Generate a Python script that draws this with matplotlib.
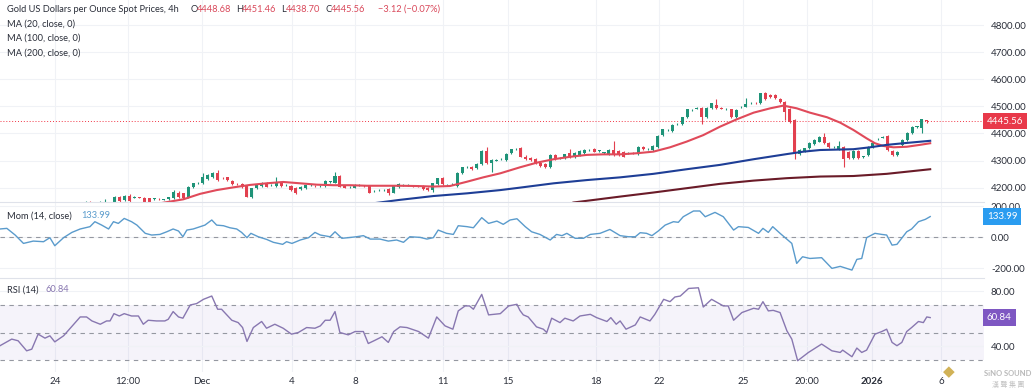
import matplotlib
matplotlib.use("Agg")
from matplotlib import pyplot as plt

# ---- price candles (4h bars, x = bar index) ----
bar_idx = list(range(17, 190))
opens = [4128, 4135, 4130, 4125, 4138, 4140,
         4148, 4167, 4155, 4171, 4163, 4165, 4163, 4160, 4159, 4158, 4156, 4157, 4161, 4182,
         4179, 4167, 4201, 4216, 4219, 4232, 4241, 4255, 4235, 4238, 4226, 4213, 4214, 4206,
         4167, 4198, 4206, 4219, 4209, 4206, 4219, 4209, 4206, 4198, 4194, 4198, 4209, 4207,
         4206, 4206, 4222, 4219, 4243, 4206, 4203, 4200, 4210, 4207, 4206, 4187, 4190, 4191,
         4194, 4182, 4201, 4210, 4210, 4207, 4206, 4206, 4200, 4192, 4214, 4235, 4210, 4213,
         4206, 4253, 4275, 4278, 4272, 4287, 4337, 4290, 4300, 4304, 4302, 4327, 4342,
         4345, 4315, 4310, 4305, 4290, 4287, 4278, 4321, 4307, 4308, 4327, 4312, 4321, 4327,
         4339, 4342, 4336, 4329, 4323, 4339, 4335, 4333, 4326, 4327, 4324, 4351, 4341, 4339,
         4351, 4395, 4413, 4410, 4434, 4435, 4460, 4487, 4492, 4493, 4460, 4493, 4505, 4493,
         4489, 4489, 4460, 4496, 4499, 4511, 4514, 4511, 4548, 4542, 4542, 4526, 4517, 4489,
         4450, 4324, 4333, 4345, 4361, 4370, 4388, 4364, 4349, 4342, 4349, 4333, 4308, 4337,
         4314, 4321, 4349, 4378, 4385, 4391, 4337, 4321, 4358, 4376, 4401, 4425, 4419, 4448.68]
highs = [4152, 4150, 4142, 4150, 4158, 4146,
         4170, 4170, 4174, 4176, 4168, 4167, 4165, 4162, 4163, 4160, 4159, 4166, 4190, 4186,
         4182, 4206, 4219, 4222, 4253, 4250, 4259, 4265, 4238, 4241, 4229, 4216, 4217, 4210,
         4200, 4212, 4221, 4222, 4213, 4238, 4222, 4213, 4209, 4201, 4206, 4210, 4213, 4210,
         4209, 4228, 4226, 4259, 4246, 4209, 4206, 4212, 4213, 4210, 4209, 4191, 4194, 4195,
         4197, 4208, 4216, 4214, 4213, 4210, 4209, 4209, 4203, 4218, 4237, 4238, 4213, 4217,
         4256, 4278, 4279, 4281, 4290, 4340, 4349, 4305, 4304, 4308, 4327, 4344, 4346,
         4350, 4320, 4314, 4309, 4294, 4290, 4323, 4325, 4312, 4326, 4341, 4330, 4340, 4342,
         4343, 4345, 4340, 4333, 4342, 4373, 4338, 4336, 4330, 4331, 4352, 4355, 4345, 4357,
         4394, 4418, 4417, 4434, 4438, 4462, 4492, 4491, 4497, 4497, 4498, 4514, 4526, 4497,
         4493, 4492, 4490, 4500, 4530, 4515, 4517, 4551, 4552, 4546, 4545, 4530, 4521, 4493,
         4455, 4342, 4348, 4367, 4379, 4389, 4403, 4367, 4352, 4373, 4352, 4336, 4340, 4340,
         4318, 4352, 4369, 4382, 4389, 4396, 4340, 4336, 4379, 4404, 4428, 4429, 4455, 4451.46]
lows = [4120, 4125, 4118, 4120, 4130, 4132,
        4145, 4145, 4150, 4142, 4160, 4160, 4144, 4143, 4156, 4154, 4153, 4155, 4158, 4160,
        4157, 4163, 4198, 4213, 4215, 4229, 4237, 4225, 4231, 4225, 4210, 4209, 4198, 4164,
        4163, 4195, 4203, 4201, 4206, 4203, 4203, 4206, 4188, 4178, 4191, 4195, 4206, 4203,
        4203, 4203, 4219, 4216, 4201, 4197, 4200, 4197, 4207, 4203, 4179, 4184, 4188, 4188,
        4172, 4179, 4198, 4207, 4207, 4203, 4203, 4191, 4188, 4185, 4211, 4211, 4207, 4210,
        4203, 4250, 4272, 4265, 4269, 4284, 4287, 4259, 4297, 4301, 4299, 4324, 4338,
        4312, 4302, 4299, 4287, 4277, 4272, 4274, 4302, 4304, 4305, 4309, 4309, 4318, 4324,
        4336, 4330, 4333, 4326, 4320, 4318, 4318, 4312, 4323, 4324, 4321, 4338, 4338, 4336,
        4348, 4392, 4410, 4407, 4431, 4432, 4457, 4484, 4489, 4435, 4457, 4490, 4490, 4490,
        4486, 4459, 4457, 4493, 4496, 4508, 4510, 4508, 4523, 4530, 4527, 4514, 4450, 4440,
        4305, 4320, 4330, 4342, 4358, 4367, 4360, 4346, 4346, 4339, 4278, 4305, 4305, 4305,
        4311, 4318, 4346, 4375, 4382, 4336, 4318, 4318, 4355, 4373, 4398, 4422, 4400, 4438.70]
closes = [4135, 4130, 4125, 4138, 4146, 4146,
          4167, 4149, 4171, 4151, 4165, 4163, 4146, 4146, 4161, 4157, 4157, 4164, 4185, 4164,
          4161, 4204, 4216, 4219, 4241, 4247, 4255, 4228, 4234, 4228, 4214, 4212, 4201, 4167,
          4198, 4210, 4219, 4204, 4211, 4219, 4206, 4210, 4192, 4182, 4204, 4208, 4210, 4206,
          4207, 4226, 4223, 4243, 4204, 4200, 4204, 4210, 4211, 4206, 4182, 4188, 4192, 4192,
          4179, 4206, 4214, 4211, 4210, 4206, 4205, 4194, 4192, 4216, 4235, 4214, 4211, 4214,
          4253, 4275, 4276, 4268, 4287, 4337, 4290, 4302, 4301, 4305, 4324, 4342, 4343,
          4315, 4305, 4302, 4290, 4280, 4275, 4321, 4305, 4308, 4323, 4312, 4327, 4337, 4339,
          4340, 4333, 4337, 4330, 4339, 4321, 4321, 4315, 4327, 4326, 4349, 4342, 4342, 4354,
          4391, 4415, 4414, 4431, 4435, 4460, 4489, 4488, 4493, 4462, 4495, 4511, 4493, 4492,
          4490, 4462, 4487, 4497, 4509, 4512, 4513, 4548, 4526, 4533, 4530, 4517, 4480, 4444,
          4327, 4339, 4345, 4364, 4376, 4386, 4364, 4349, 4350, 4354, 4305, 4308, 4337, 4308,
          4315, 4349, 4366, 4379, 4386, 4339, 4321, 4333, 4376, 4401, 4425, 4426, 4452, 4445.56]

# ---- moving averages ----
ma20_x = [31.5, 37.0, 40.4, 43.8, 47.2, 50.6, 54.0, 57.4, 60.9, 64.3, 67.7, 71.1, 74.5, 77.9,
          81.3, 84.7, 88.1, 91.5, 95.0, 98.3, 101.8, 105.8, 109.2, 112.7, 116.1, 119.5, 122.9,
          126.3, 129.7, 133.1, 136.5, 139.9, 143.3, 146.7, 150.1, 153.6, 157.0, 159.7, 162.4,
          165.1, 168.6, 171.3, 174.0, 176.7, 178.4, 180.1, 182.2, 184.9, 187.6, 189.7]
ma20_y = [4140, 4157, 4177, 4191, 4201, 4210, 4216, 4221, 4216, 4211, 4209, 4209, 4207, 4207,
          4207, 4206, 4204, 4206, 4222, 4238, 4253, 4275, 4292, 4305, 4314, 4321, 4323,
          4323, 4327, 4333, 4349, 4370, 4394, 4425, 4452, 4477, 4493, 4503, 4493,
          4477, 4460, 4440, 4413, 4382, 4364, 4354, 4349, 4351, 4358, 4364]
ma100_x = [74.5, 81.3, 88.1, 95.0, 101.8, 105.8, 112.7, 119.5, 126.3, 133.1, 139.9, 146.7,
           153.6, 160.4, 163.8, 167.2, 174.0, 177.4, 180.8, 184.2, 189.7]
ma100_y = [4139, 4155, 4169, 4179, 4191, 4200, 4216, 4228, 4238, 4251, 4268, 4284,
           4305, 4324, 4333, 4339, 4342, 4349, 4358, 4364, 4373]
ma200_x = [115.4, 116.7, 126.3, 133.1, 139.9, 146.7, 153.6, 160.4, 167.2, 174.0, 180.8, 189.7]
ma200_y = [4135, 4145, 4167, 4182, 4198, 4214, 4226, 4235, 4241, 4243, 4251, 4268]

# ---- momentum (14, close) ----
mom_x = [-0.5, 0.9, 2.6, 4.3, 6.3, 8.4, 9.7, 10.7, 12.5, 14.2, 15.9, 17.9, 18.9, 20.3, 21.7,
         22.7, 23.7, 24.9, 26.4, 27.5, 29.2, 30.5, 32.2, 33.6, 34.9, 36.0, 36.9, 37.7, 39.0,
         40.4, 41.4, 42.8, 43.8, 45.2, 46.5, 47.9, 48.9, 50.0, 50.8, 52.3, 54.0, 55.4, 57.3,
         58.1, 59.2, 60.9, 62.6, 63.9, 65.0, 67.0, 68.0, 69.4, 70.7, 72.4, 73.8, 75.2, 77.2,
         78.9, 80.6, 82.0, 83.3, 85.4, 86.8, 88.1, 89.1, 90.8, 92.2, 93.2, 95.0, 96.3, 98.0,
         99.4, 101.1, 102.4, 103.8, 105.2, 106.9, 108.2, 109.9, 112.0, 113.3, 114.4, 115.4,
         117.1, 118.8, 120.2, 122.2, 124.2, 126.3, 128.0, 129.4, 130.4, 131.7, 132.8, 134.1,
         135.5, 137.2, 138.2, 139.2, 141.3, 142.6, 143.7, 145.7, 147.4, 149.5, 150.5, 152.5,
         154.6, 155.5, 156.6, 157.5, 159.0, 161.4, 162.4, 163.6, 165.1, 167.5, 169.6, 171.3,
         173.7, 174.7, 175.7, 176.7, 178.4, 179.8, 180.8, 181.9, 182.9, 184.9, 185.9, 187.3,
         188.7, 189.7]
mom_y = [54, 58, 15, -39, -24, -28, -2, -54, -2, 32, 54, 69, 101, 79, 54,
         101, 90, 122, 101, 79, 26, 15, 19, 36, 54, 41, 4, 47, 54,
         69, 79, 112, 79, 75, 62, 54, 32, -2, 26, 4, -13, -32, -45,
         -28, -39, -17, -2, 32, 15, 4, 36, -6, -2, 4, 11, -11, -11,
         -24, -17, -32, 4, 0, -11, -2, 47, 26, 19, 75, 69, 62, 127,
         90, 105, 84, 112, 120, 69, 36, 19, -17, 19, 11, 26,
         -6, -6, 19, 26, 51, 11, 4, 4, 30, 26, 11, 41,
         79, 101, 97, 133, 170, 170, 133, 161, 133, 47, 69, 64,
         26, 58, 32, 69, 26, -39, -168, -125, -136, -131, -200, -187,
         -211, -142, -136, -2, 26, 19, 15, -50, -45, 36, 54, 101,
         116, 133.99]

# ---- RSI (14) ----
rsi_x = [-0.5, 1.9, 3.2, 4.95, 6.0, 7.3, 8.7, 9.7, 10.7, 12.5, 15.9, 17.2, 18.3, 20.0, 21.3,
         22.0, 22.8, 23.9, 24.9, 26.4, 27.8, 28.8, 29.8, 31.5, 33.2, 33.9, 34.9, 36.0, 36.9,
         38.4, 39.7, 41.1, 42.8, 44.0, 44.8, 46.9, 48.2, 49.1, 50.0, 51.3, 53.0, 54.0, 55.7,
         57.4, 59.1, 60.5, 62.2, 63.9, 65.0, 66.0, 67.0, 68.0, 69.0, 70.7, 72.1, 73.8, 74.8,
         76.2, 77.6, 78.9, 80.0, 81.3, 82.7, 85.1, 87.1, 88.8, 90.5, 92.1, 93.2, 94.6, 95.5,
         96.3, 98.0, 99.4, 101.8, 103.5, 105.2, 105.8, 106.5, 107.5, 109.2, 110.6, 111.3,
         112.3, 114.0, 115.0, 116.7, 118.1, 120.2, 121.5, 123.6, 124.4, 125.5, 126.3, 127.5,
         129.4, 130.4, 132.4, 133.4, 135.2, 136.5, 137.5, 138.6, 140.3, 142.3, 143.3, 145.0,
         147.4, 148.4, 149.5, 151.2, 153.6, 154.6, 155.5, 156.6, 157.6, 159.0, 160.4, 161.4,
         162.6, 164.8, 167.5, 169.6, 171.3, 171.8, 173.7, 174.7, 175.7, 176.7, 178.4, 179.8,
         180.8, 181.9, 182.9, 183.9, 184.9, 185.9, 187.3, 188.3, 189.0, 189.7]
rsi_y = [40.4, 45.2, 44.0, 36.7, 37.9, 48.8, 45.9, 47.6, 43.2, 47.6, 61.3, 61.3, 58.4, 56.0, 58.4,
         58.4, 63.7, 62.0, 63.7, 62.0, 62.0, 56.0, 58.9, 58.4, 58.4, 59.6, 65.2, 61.3, 60.4,
         70.0, 71.0, 74.1, 76.5, 66.9, 66.9, 58.9, 57.2, 53.6, 43.5, 53.6, 58.0, 53.1, 56.0,
         53.1, 48.8, 50.0, 53.6, 53.1, 54.8, 58.9, 58.9, 65.2, 50.0, 48.3, 50.7, 50.7, 42.0,
         44.4, 46.9, 42.8, 50.7, 54.1, 53.6, 50.7, 45.9, 61.3, 54.8, 52.4, 65.7, 69.3, 69.3,
         66.9, 77.7, 62.8, 63.7, 69.3, 70.5, 66.1, 62.8, 61.3, 54.1, 52.4, 50.0,
         60.4, 57.2, 60.4, 58.4, 62.0, 63.2, 60.8, 58.0, 60.8, 56.0, 58.4, 52.4,
         55.5, 61.3, 58.4, 63.2, 74.1, 72.4, 75.8, 76.5, 82.0, 82.5, 68.5, 74.1,
         69.3, 69.3, 58.9, 64.5, 67.6, 66.9, 72.4, 65.7, 66.1, 64.5, 51.2, 45.2,
         29.5, 35.5, 41.6, 36.7, 35.5, 37.2, 32.4, 38.7, 35.5, 37.2, 48.8, 50.7,
         52.4, 42.8, 40.4, 42.8, 50.7, 53.6, 58.0, 57.2, 61.3, 60.84]

# ---- axis labels ----
tick_pos = [10.7, 25.7, 40.8, 59.2, 72.1, 90.1, 103.4, 121.4, 134.3, 151.4, 164.5, 177.8, 191.9]
tick_lbl = ["24", "12:00", "Dec", "4", "8", "11", "15", "18", "22", "25", "20:00", "2026", "6"]
price_ticks = [4200, 4300, 4400, 4500, 4600, 4700, 4800]
mom_ticks = [-200, 0, 200]
rsi_ticks = [40, 80]
last_price = 4445.56

UP, DOWN = "#1f9378", "#e2404f"
GRID = "#f0f2f6"
TXT = "#2a2e39"
FS = 6.7

plt.rcParams["font.family"] = ["Lato", "DejaVu Sans"]
plt.rcParams["font.size"] = FS

W, H = 1033, 392
fig = plt.figure(figsize=(W / 100, H / 100), dpi=100)


def px_box(x0, y0, x1, y1):
    return [x0 / W, 1 - y1 / H, (x1 - x0) / W, (y1 - y0) / H]


ax = fig.add_axes(px_box(0, 0, 984, 202))
axm = fig.add_axes(px_box(0, 202, 984, 278), sharex=ax)
axr = fig.add_axes(px_box(0, 278, 984, 372), sharex=ax)

for a in (ax, axm, axr):
    for s in a.spines.values():
        s.set_visible(False)
    a.yaxis.tick_right()
    a.tick_params(axis="y", length=0, pad=5, labelsize=7, labelcolor=TXT)
    a.tick_params(axis="x", length=0)
    for t in tick_pos:
        a.axvline(t, color=GRID, lw=0.8, zorder=0)
axm.spines["top"].set_visible(True)
axm.spines["top"].set_color("#dfe2ea")
axr.spines["top"].set_visible(True)
axr.spines["top"].set_color("#dfe2ea")

# candles
cols = [UP if c >= o else DOWN for o, c in zip(opens, closes)]
ax.vlines(bar_idx, lows, highs, colors=cols, lw=0.8, zorder=3)
bottoms = [min(o, c) for o, c in zip(opens, closes)]
heights = [max(abs(c - o), 1.2) for o, c in zip(opens, closes)]
ax.bar(bar_idx, heights, bottom=bottoms, width=0.62, color=cols, zorder=4)

ax.plot(ma20_x, ma20_y, color="#e04a5a", lw=1.5, zorder=5)
ax.plot(ma100_x, ma100_y, color="#1e3e96", lw=1.5, zorder=5)
ax.plot(ma200_x, ma200_y, color="#6a1b28", lw=1.5, zorder=5)
ax.axhline(last_price, color="#f23645", lw=0.7, ls=(0, (1, 2)), zorder=2)

for p in price_ticks:
    ax.axhline(p, color=GRID, lw=0.8, zorder=0)
ax.set_ylim(4147, 4893)
ax.set_xlim(-0.5, 200.7)
ax.set_yticks(price_ticks, [f"{p:.2f}" for p in price_ticks])
ax.tick_params(axis="x", labelbottom=False)

box_kw = dict(ha="left", va="center", color="white", fontsize=7, clip_on=False, zorder=10)
ax.text(1.003, last_price, f"{last_price:.2f}", transform=ax.get_yaxis_transform(),
        bbox=dict(boxstyle="square,pad=0.38", fc="#e8394a", ec="none"), **box_kw)

# momentum
axm.plot(mom_x, mom_y, color="#5a9bcc", lw=1.0, zorder=3)
axm.axhline(0, color="#9598a1", lw=0.8, ls=(0, (4, 4)), zorder=2)
for v in mom_ticks:
    axm.axhline(v, color=GRID, lw=0.8, zorder=0)
axm.set_ylim(-262, 228)
axm.set_yticks(mom_ticks, [f"{v:.2f}" for v in mom_ticks])
axm.tick_params(axis="x", labelbottom=False)
axm.text(1.003, mom_y[-1], f"{mom_y[-1]:.2f}", transform=axm.get_yaxis_transform(),
         bbox=dict(boxstyle="square,pad=0.38", fc="#2a9cf0", ec="none"), **box_kw)

# RSI
axr.axhspan(30, 70, color="#7e57c2", alpha=0.07, lw=0, zorder=0)
for v in (30, 50, 70):
    axr.axhline(v, color="#9598a1", lw=0.8, ls=(0, (4, 4)), zorder=2)
for v in rsi_ticks:
    axr.axhline(v, color=GRID, lw=0.8, zorder=0)
axr.plot(rsi_x, rsi_y, color="#8877b0", lw=1.0, zorder=3)
axr.set_ylim(21.3, 89.6)
axr.set_yticks(rsi_ticks, [f"{v:.2f}" for v in rsi_ticks])
axr.set_xticks(tick_pos, tick_lbl)
axr.tick_params(axis="x", pad=3.5, labelsize=7, labelcolor=TXT)
axr.get_xticklabels()[tick_lbl.index("2026")].set_fontweight("bold")
axr.text(1.003, rsi_y[-1], f"{rsi_y[-1]:.2f}", transform=axr.get_yaxis_transform(),
         bbox=dict(boxstyle="square,pad=0.38", fc="#7e57c2", ec="none"), **box_kw)

# legends / headers
RED = "#d9485a"
fig.text(7 / W, 1 - 9 / H, "Gold US Dollars per Ounce Spot Prices, 4h", color=TXT, va="center")
for x, key, val in [(191, "O", "4448.68"), (236, "H", "4451.46"), (281, "L", "4438.70"), (325, "C", "4445.56")]:
    fig.text(x / W, 1 - 9 / H, key, color=TXT, va="center")
    fig.text((x + (5 if key == "L" else 6)) / W, 1 - 9 / H, val, color=RED, va="center")
fig.text(378 / W, 1 - 9 / H, "\u22123.12 (\u22120.07%)", color=RED, va="center")
for i, s in enumerate(["MA (20, close, 0)", "MA (100, close, 0)", "MA (200, close, 0)"]):
    fig.text(7 / W, 1 - (24 + 14.5 * i) / H, s, color=TXT, va="center")
fig.text(7 / W, 1 - 216 / H, "Mom (14, close)", color=TXT, va="center")
fig.text(81 / W, 1 - 216 / H, "133.99", color="#5a9bcc", va="center")
fig.text(7 / W, 1 - 290 / H, "RSI (14)", color=TXT, va="center")
fig.text(45 / W, 1 - 290 / H, "60.84", color="#8877b0", va="center")

# watermark
fig.text(1008 / W, 1 - 374 / H, "SiNO SOUND", color="#b9b9b9", fontsize=5.5, fontweight="bold",
         ha="center", va="center")
fig.text(1008 / W, 1 - 385 / H, "漢 聲 集 團", color="#c4c4c4", fontsize=5, ha="center", va="center",
         family=["Noto Sans CJK TC", "DejaVu Sans"])
fig.text(949 / W, 1 - 372 / H, "\u25C6", color="#c9a53a", fontsize=11, ha="center", va="center",
         family=["DejaVu Sans"], alpha=0.85)

fig.savefig("out.png", dpi=100)
